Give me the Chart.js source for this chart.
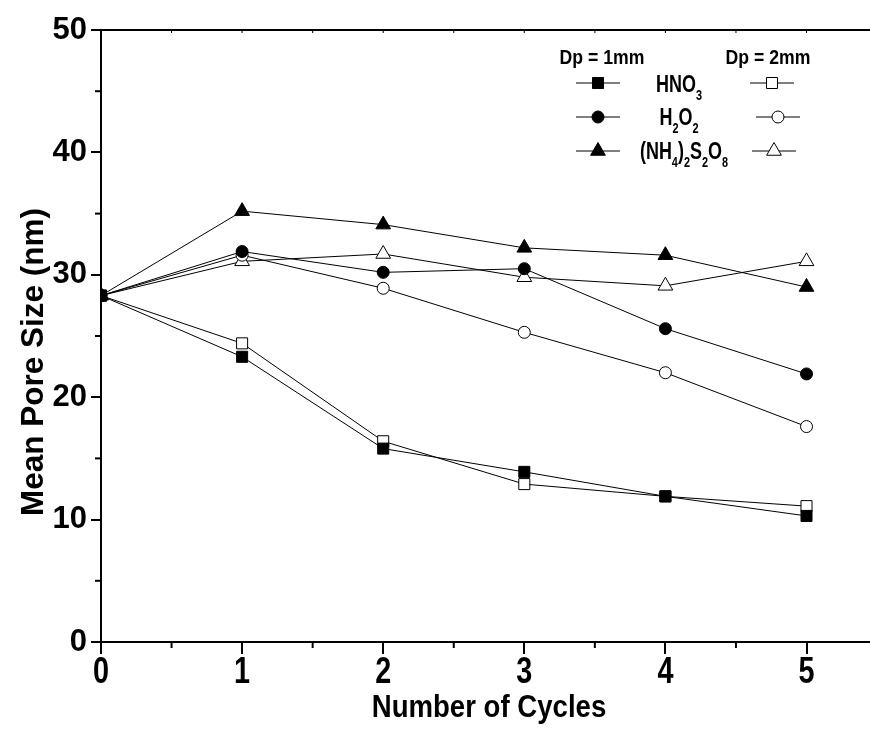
<!DOCTYPE html>
<html>
<head>
<meta charset="utf-8">
<script src="https://cdn.jsdelivr.net/npm/chart.js@4"></script>
<style>
  html, body { margin: 0; padding: 0; background: #fff; }
</style>
</head>
<body>
<canvas id="poreChart" width="870" height="729"></canvas>
<script>
// data
const cycles = [0, 1, 2, 3, 4, 5];
const hno3_1mm = [28.3, 23.3, 15.8, 13.9, 11.9, 10.3];
const hno3_2mm = [28.3, 24.4, 16.4, 12.9, 11.9, 11.1];
const h2o2_1mm = [28.3, 31.9, 30.2, 30.5, 25.6, 21.9];
const h2o2_2mm = [28.3, 31.6, 28.9, 25.3, 22.0, 17.6];
const aps_1mm = [28.3, 35.2, 34.1, 32.2, 31.6, 29.0];
const aps_2mm = [28.3, 31.1, 31.7, 29.8, 29.1, 31.1];

const xTicks = [0, 1, 2, 3, 4, 5];
const xMinor = [0.5, 1.5, 2.5, 3.5, 4.5];
const yTicks = [0, 10, 20, 30, 40, 50];
const yMinor = [5, 15, 25, 35, 45];

const FONT = '"Liberation Sans", Arial, sans-serif';

function pts(ys) {
  return cycles.map((c, i) => ({ x: c, y: ys[i] }));
}

function series(label, ys, style, radius, filled) {
  return {
    label: label,
    data: pts(ys),
    borderColor: '#000',
    borderWidth: 1,
    pointStyle: style,
    pointRadius: radius,
    pointHoverRadius: radius,
    pointBorderWidth: 1,
    pointBorderColor: '#000',
    pointBackgroundColor: filled ? '#000' : '#fff',
    tension: 0,
    clip: 0
  };
}

const legendRows = [
  { y: 83, base: 92, style: 'rect', r: 7.8, cx: 679, openX: 772,
    parts: [['HNO', 0], ['3', 1]] },
  { y: 117, base: 125, style: 'circle', r: 6, cx: 679, openX: 778,
    parts: [['H', 0], ['2', 1], ['O', 0], ['2', 1]] },
  { y: 151, base: 159, style: 'triangle', r: 8.5, cx: 684, openX: 774,
    parts: [['(NH', 0], ['4', 1], [')', 0], ['2', 1], ['S', 0], ['2', 1], ['O', 0], ['8', 1]] }
];

// draw text squeezed horizontally (the figure uses a narrow face)
function narrowText(ctx, text, x, y, sx, align) {
  ctx.save();
  ctx.translate(x, y);
  ctx.scale(sx, 1);
  ctx.textAlign = align;
  ctx.fillText(text, 0, 0);
  ctx.restore();
}

function drawChem(ctx, parts, cx, base) {
  const big = 'bold 23px ' + FONT;
  const small = 'bold 14px ' + FONT;
  const sx = 0.78;
  let total = 0;
  parts.forEach(p => {
    ctx.font = p[1] ? small : big;
    total += ctx.measureText(p[0]).width * sx;
  });
  let x = cx - total / 2;
  ctx.textBaseline = 'alphabetic';
  parts.forEach(p => {
    ctx.font = p[1] ? small : big;
    narrowText(ctx, p[0], x, p[1] ? base + 8 : base, sx, 'left');
    x += ctx.measureText(p[0]).width * sx;
  });
}

function sample(ctx, style, r, cx, y, filled) {
  ctx.strokeStyle = '#000';
  ctx.lineWidth = 1;
  ctx.beginPath();
  ctx.moveTo(cx - 22, y);
  ctx.lineTo(cx + 22, y);
  ctx.stroke();
  ctx.fillStyle = filled ? '#000' : '#fff';
  Chart.helpers.drawPoint(ctx, { pointStyle: style, radius: r, rotation: 0, borderWidth: 1 }, cx, y);
}

const decor = {
  id: 'decor',
  afterDraw(chart) {
    const ctx = chart.ctx;
    const xs = chart.scales.x;
    const ys = chart.scales.y;
    const area = chart.chartArea;
    ctx.save();
    ctx.strokeStyle = '#000';
    ctx.lineWidth = 2;
    // minor ticks
    xMinor.forEach(v => {
      const px = xs.getPixelForValue(v);
      ctx.beginPath();
      ctx.moveTo(px, area.bottom);
      ctx.lineTo(px, area.bottom + 6);
      ctx.stroke();
    });
    yMinor.forEach(v => {
      const py = ys.getPixelForValue(v);
      ctx.beginPath();
      ctx.moveTo(area.left, py);
      ctx.lineTo(area.left - 6, py);
      ctx.stroke();
    });
    // top frame line with small inward ticks
    ctx.beginPath();
    ctx.moveTo(area.left, area.top);
    ctx.lineTo(area.right, area.top);
    ctx.stroke();
    ctx.lineWidth = 1;
    xTicks.concat(xMinor).forEach(v => {
      const px = xs.getPixelForValue(v);
      ctx.beginPath();
      ctx.moveTo(px, area.top);
      ctx.lineTo(px, area.top + 3);
      ctx.stroke();
    });

    ctx.fillStyle = '#000';
    // x tick labels
    ctx.font = 'bold 36px ' + FONT;
    ctx.textBaseline = 'middle';
    xTicks.forEach(v => {
      narrowText(ctx, String(v), xs.getPixelForValue(v), 673, 0.8, 'center');
    });

    // axis titles
    ctx.textBaseline = 'alphabetic';
    ctx.font = 'bold 31px ' + FONT;
    narrowText(ctx, 'Number of Cycles', 489, 717, 0.89, 'center');
    ctx.save();
    ctx.translate(43, 362);
    ctx.rotate(-Math.PI / 2);
    ctx.textAlign = 'center';
    ctx.font = 'bold 31.5px ' + FONT;
    ctx.fillText('Mean Pore Size (nm)', 0, 0);
    ctx.restore();

    // legend
    ctx.font = 'bold 21px ' + FONT;
    narrowText(ctx, 'Dp = 1mm', 602, 64, 0.84, 'center');
    narrowText(ctx, 'Dp = 2mm', 768, 64, 0.84, 'center');
    legendRows.forEach(row => {
      sample(ctx, row.style, row.r, 598, row.y, true);
      sample(ctx, row.style, row.r, row.openX, row.y, false);
      ctx.fillStyle = '#000';
      drawChem(ctx, row.parts, row.cx, row.base);
    });
    ctx.restore();
  }
};

new Chart(document.getElementById('poreChart'), {
  type: 'line',
  data: {
    datasets: [
      series('HNO3 1mm', hno3_1mm, 'rect', 7.8, true),
      series('HNO3 2mm', hno3_2mm, 'rect', 7.8, false),
      series('H2O2 1mm', h2o2_1mm, 'circle', 6, true),
      series('H2O2 2mm', h2o2_2mm, 'circle', 6, false),
      series('APS 1mm', aps_1mm, 'triangle', 8.5, true),
      series('APS 2mm', aps_2mm, 'triangle', 8.5, false)
    ]
  },
  options: {
    responsive: false,
    animation: false,
    devicePixelRatio: 1,
    layout: { autoPadding: false, padding: { top: 30, right: 0, left: 0, bottom: 0 } },
    plugins: { legend: { display: false }, tooltip: { enabled: false } },
    scales: {
      x: {
        type: 'linear',
        min: 0,
        max: 5.45,
        afterBuildTicks: s => { s.ticks = xTicks.map(v => ({ value: v })); },
        afterFit: s => { s.height = 87; s.paddingRight = 0; s.paddingLeft = 0; },
        border: { display: true, color: '#000', width: 2 },
        grid: { drawOnChartArea: false, tickLength: 12, lineWidth: 2, color: '#000' },
        ticks: { display: false }
      },
      y: {
        min: 0,
        max: 50,
        afterBuildTicks: s => { s.ticks = yTicks.map(v => ({ value: v })); },
        afterFit: s => { s.width = 101; s.paddingTop = 0; s.paddingBottom = 0; },
        border: { display: true, color: '#000', width: 2 },
        grid: { drawOnChartArea: false, tickLength: 10, lineWidth: 2, color: '#000' },
        ticks: { color: '#000', padding: 4, font: { family: FONT, size: 31, weight: 'bold' } }
      }
    }
  },
  plugins: [decor]
});
</script>
</body>
</html>
